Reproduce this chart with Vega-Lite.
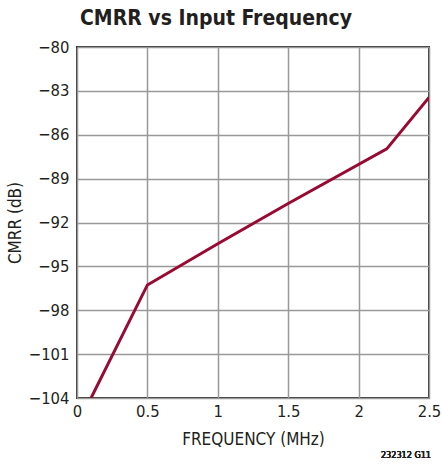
{
  "$schema": "https://vega.github.io/schema/vega-lite/v6.json",
  "autosize": {"type": "none"},
  "width": 352,
  "height": 351,
  "padding": {"left": 77, "top": 47, "right": 13, "bottom": 68},
  "background": "white",
  "title": {
    "text": "CMRR vs Input Frequency",
    "font": "DejaVu Sans Condensed",
    "fontSize": 21,
    "fontWeight": "bold",
    "color": "#231f20",
    "anchor": "start",
    "frame": "group",
    "dx": 3,
    "offset": 10
  },
  "config": {
    "view": {"stroke": "#333333", "strokeWidth": 2},
    "axis": {
      "labelFont": "DejaVu Sans Condensed",
      "titleFont": "DejaVu Sans Condensed",
      "labelFontSize": 16.5,
      "titleFontSize": 17,
      "titleFontWeight": "normal",
      "labelColor": "#231f20",
      "titleColor": "#231f20",
      "domain": false,
      "ticks": false,
      "gridColor": "#999999",
      "gridWidth": 1.5,
      "gridOpacity": 1
    }
  },
  "data": {
    "values": [
      {"f": 0.1, "cmrr": -104},
      {"f": 0.5, "cmrr": -96.27},
      {"f": 1.0, "cmrr": -93.45},
      {"f": 1.5, "cmrr": -90.7},
      {"f": 2.2, "cmrr": -86.97},
      {"f": 2.5, "cmrr": -83.45}
    ]
  },
  "layer": [
    {
      "mark": {"type": "line", "color": "#990a33", "strokeWidth": 3, "clip": true},
      "encoding": {
        "x": {
          "field": "f", "type": "quantitative",
          "scale": {"domain": [0, 2.5], "nice": false, "zero": false},
          "axis": {"values": [0, 0.5, 1, 1.5, 2, 2.5], "title": "FREQUENCY (MHz)", "labelPadding": 5, "titlePadding": 12, "labelFlush": false, "labelExpr": "datum.value == 0 ? '0' : format(datum.value, '.1~f')"}
        },
        "y": {
          "field": "cmrr", "type": "quantitative",
          "scale": {"domain": [-104, -80], "nice": false, "zero": false},
          "axis": {"values": [-104, -101, -98, -95, -92, -89, -86, -83, -80], "title": "CMRR (dB)", "labelPadding": 8, "titlePadding": 4, "labelFlush": false}
        }
      }
    },
    {
      "mark": {"type": "text", "text": "232312 G11", "font": "DejaVu Sans Condensed", "fontSize": 9, "align": "right", "baseline": "middle", "dy": 57, "dx": 2, "color": "#231f20"},
      "encoding": {
        "x": {"datum": 2.5, "type": "quantitative"},
        "y": {"datum": -104, "type": "quantitative"}
      }
    }
  ]
}
